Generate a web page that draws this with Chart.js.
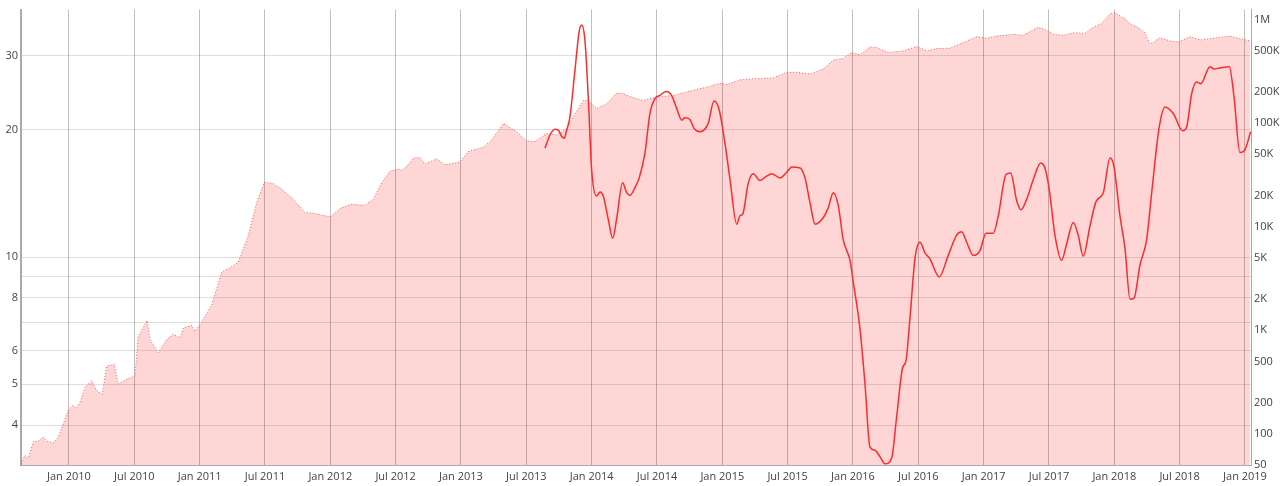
<!DOCTYPE html>
<html>
<head>
<meta charset="utf-8">
<script src="https://cdn.jsdelivr.net/npm/chart.js@4.4.1/dist/chart.umd.min.js"></script>
<style>
  html, body { margin: 0; padding: 0; background: #fff; }
  #wrap { width: 1280px; height: 486px; position: relative; }
</style>
</head>
<body>
<div id="wrap"><canvas id="chart"></canvas></div>
<script>
// Area series (right axis), x in decimal years
const areaYears = [
  2009.633, 2009.663, 2009.689, 2009.727, 2009.765, 2009.803, 2009.829, 2009.880, 2009.918, 2009.956,
  2009.995, 2010.025, 2010.059, 2010.084, 2010.122, 2010.174, 2010.212, 2010.255, 2010.289, 2010.347,
  2010.377, 2010.442, 2010.505, 2010.530, 2010.599, 2010.620, 2010.683, 2010.748, 2010.798, 2010.849,
  2010.875, 2010.939, 2010.964, 2011.003, 2011.092, 2011.169, 2011.232, 2011.296, 2011.372, 2011.436,
  2011.495, 2011.563, 2011.640, 2011.704, 2011.806, 2011.883, 2011.997, 2012.087, 2012.163, 2012.265,
  2012.329, 2012.393, 2012.457, 2012.520, 2012.546, 2012.584, 2012.635, 2012.686, 2012.724, 2012.814,
  2012.877, 2012.992, 2013.056, 2013.170, 2013.235, 2013.324, 2013.426, 2013.503, 2013.566, 2013.656,
  2013.732, 2013.809, 2013.859, 2013.936, 2013.974, 2014.038, 2014.115, 2014.191, 2014.242, 2014.318,
  2014.395, 2014.498, 2014.625, 2014.752, 2014.880, 2014.982, 2015.033, 2015.135, 2015.212, 2015.390,
  2015.493, 2015.569, 2015.671, 2015.773, 2015.849, 2015.926, 2015.990, 2016.053, 2016.130, 2016.181,
  2016.270, 2016.385, 2016.487, 2016.564, 2016.640, 2016.742, 2016.844, 2016.946, 2017.023, 2017.099,
  2017.226, 2017.303, 2017.418, 2017.469, 2017.532, 2017.609, 2017.685, 2017.775, 2017.839, 2017.903,
  2017.966, 2018.005, 2018.068, 2018.133, 2018.183, 2018.234, 2018.273, 2018.349, 2018.426, 2018.489,
  2018.579, 2018.655, 2018.783, 2018.885, 2018.961, 2019.038
];
const areaValues = [
  52, 62, 58, 84, 85, 93, 85, 82, 93, 125,
  168, 187, 178, 201, 280, 325, 261, 242, 452, 469,
  302, 337, 362, 875, 1244, 813, 606, 813, 920, 843,
  1050, 1114, 977, 1131, 1757, 3657, 3995, 4558, 8206, 17087,
  26940, 26120, 22390, 19070, 13700, 13410, 12460, 15300, 16460, 16090,
  18370, 26520, 34320, 36100, 35090, 38310, 45980, 46700, 40300, 45280,
  39680, 42100, 53300, 58600, 68800, 99400, 82800, 67300, 66400, 79700,
  76800, 89000, 115200, 166000, 166000, 138200, 154400, 195300, 192300, 176100,
  166000, 178900, 185200, 204100, 222900, 243400, 236000, 261700, 267600, 273500,
  310000, 310000, 298700, 333500, 406600, 422100, 481600, 456900, 544800, 537700,
  481600, 498900, 549600, 498900, 526000, 529500, 600300, 685000, 660000, 694200,
  720600, 704800, 846200, 804400, 720600, 704800, 748100, 736700, 846200, 912000,
  1136500, 1161900, 1040900, 898000, 835200, 748100, 578400, 670200, 621800, 608300,
  685000, 635600, 670200, 694200, 655500, 621800
];

// Line series (left axis)
const lineYears = [
  2013.643, 2013.681, 2013.719, 2013.745, 2013.771, 2013.791, 2013.809, 2013.834, 2013.872, 2013.905,
  2013.924, 2013.949, 2013.974, 2014.000, 2014.038, 2014.064, 2014.089, 2014.127, 2014.161, 2014.191,
  2014.237, 2014.268, 2014.293, 2014.331, 2014.364, 2014.408, 2014.446, 2014.485, 2014.523, 2014.569,
  2014.612, 2014.651, 2014.689, 2014.714, 2014.752, 2014.783, 2014.829, 2014.892, 2014.936, 2014.977,
  2015.020, 2015.059, 2015.110, 2015.135, 2015.156, 2015.199, 2015.237, 2015.288, 2015.339, 2015.378,
  2015.441, 2015.493, 2015.531, 2015.595, 2015.633, 2015.671, 2015.710, 2015.773, 2015.811, 2015.849,
  2015.888, 2015.926, 2015.952, 2015.977, 2016.002, 2016.053, 2016.092, 2016.130, 2016.168, 2016.206,
  2016.245, 2016.296, 2016.334, 2016.380, 2016.405, 2016.436, 2016.474, 2016.513, 2016.551, 2016.589,
  2016.660, 2016.729, 2016.793, 2016.832, 2016.870, 2016.921, 2016.972, 2017.018, 2017.074, 2017.112,
  2017.171, 2017.207, 2017.253, 2017.286, 2017.329, 2017.380, 2017.436, 2017.469, 2017.502, 2017.546,
  2017.597, 2017.635, 2017.686, 2017.724, 2017.762, 2017.814, 2017.860, 2017.916, 2017.967, 2017.997,
  2018.043, 2018.082, 2018.120, 2018.150, 2018.196, 2018.248, 2018.286, 2018.344, 2018.388, 2018.451,
  2018.523, 2018.554, 2018.592, 2018.630, 2018.661, 2018.732, 2018.763, 2018.808, 2018.880, 2018.916,
  2018.961, 2018.999, 2019.043
];
const lineValues = [
  18.09, 19.44, 20.05, 19.97, 19.28, 19.10, 19.97, 21.47, 27.61, 34.26,
  35.39, 32.46, 23.91, 16.10, 13.94, 14.25, 13.94, 12.29, 11.08, 12.29,
  14.98, 14.20, 13.99, 14.58, 15.39, 17.61, 21.85, 23.70, 24.13, 24.65,
  24.13, 22.45, 21.08, 21.35, 21.16, 20.16, 19.80, 20.71, 23.41, 22.25,
  18.59, 15.25, 11.96, 12.52, 12.63, 14.98, 15.75, 15.17, 15.54, 15.75,
  15.39, 15.87, 16.33, 16.24, 15.39, 13.45, 11.96, 12.40, 13.09, 14.20,
  13.21, 10.96, 10.36, 9.83, 8.73, 6.79, 5.00, 3.55, 3.49, 3.37,
  3.24, 3.34, 4.18, 5.47, 5.67, 7.16, 9.90, 10.84, 10.23, 9.90,
  8.97, 10.09, 11.27, 11.48, 10.84, 10.09, 10.36, 11.39, 11.39, 12.52,
  15.67, 15.81, 13.57, 12.93, 13.69, 15.25, 16.69, 16.24, 14.45, 11.24,
  9.82, 10.74, 12.07, 11.24, 10.05, 11.86, 13.52, 14.20, 17.15, 16.39,
  12.52, 10.45, 7.94, 7.98, 9.56, 11.03, 14.20, 20.34, 22.66, 21.85,
  19.91, 20.34, 24.35, 25.94, 25.70, 28.21, 27.86, 28.02, 28.21, 23.91,
  17.68, 17.93, 19.80
];

// Axis ticks
const xTickYears = [2010, 2010.5, 2011, 2011.5, 2012, 2012.5, 2013, 2013.5, 2014, 2014.5,
  2015, 2015.5, 2016, 2016.5, 2017, 2017.5, 2018, 2018.5, 2019];
const leftTicks = [4, 5, 6, 7, 8, 9, 10, 20, 30];
const leftTickLabels = ['4', '5', '6', '', '8', '', '10', '20', '30'];
const rightTicks = [50, 100, 200, 500, 1e3, 2e3, 5e3, 1e4, 2e4, 5e4, 1e5, 2e5, 5e5, 1e6];
const rightTickLabels = ['50', '100', '200', '500', '1K', '2K', '5K', '10K', '20K', '50K', '100K', '200K', '500K', '1M'];

function toPoints(xs, ys) {
    return xs.map((x, i) => ({ x: x, y: ys[i] }));
}

function xLabel(v) {
    const yr = Math.floor(v + 1e-6);
    return (v - yr < 0.25 ? 'Jan ' : 'Jul ') + yr;
}

Chart.defaults.font.family = '"Open Sans", sans-serif';
Chart.defaults.font.size = 11;
Chart.defaults.color = '#444';

const ctx = document.getElementById('chart');

window.chart = new Chart(ctx, {
    type: 'line',
    data: {
        datasets: [{
            label: 'line',
            data: toPoints(lineYears, lineValues),
            yAxisID: 'y',
            borderColor: '#ff2a2a',
            borderWidth: 1.5,
            pointRadius: 0,
            cubicInterpolationMode: 'monotone',
            fill: false
        }, {
            label: 'area',
            data: toPoints(areaYears, areaValues),
            yAxisID: 'y2',
            borderColor: 'rgba(255, 40, 40, 0.75)',
            borderWidth: 1,
            borderDash: [1, 2],
            backgroundColor: 'rgba(255, 0, 0, 0.16)',
            pointRadius: 0,
            tension: 0,
            fill: 'start'
        }]
    },
    options: {
        responsive: true,
        maintainAspectRatio: false,
        animation: false,
        layout: { padding: { top: 5, left: 0, right: 0, bottom: 0 } },
        plugins: {
            legend: { display: false },
            tooltip: { enabled: false }
        },
        scales: {
            x: {
                type: 'linear',
                min: 2009.633,
                max: 2019.046,
                afterBuildTicks: s => { s.ticks = xTickYears.map(v => ({ value: v })); },
                afterFit: s => { s.height = 21; },
                grid: { color: 'rgba(0, 0, 0, 0.25)', drawTicks: false },
                border: { color: '#aaa', width: 1 },
                ticks: { callback: v => xLabel(v), padding: 5, autoSkip: false, maxRotation: 0 }
            },
            y: {
                type: 'logarithmic',
                position: 'left',
                min: 3.22,
                max: 38.5,
                afterBuildTicks: s => { s.ticks = leftTicks.map(v => ({ value: v })); },
                afterFit: s => { s.width = 21; },
                grid: { color: 'rgba(0, 0, 0, 0.13)', drawTicks: false },
                border: { color: '#aaa', width: 2 },
                ticks: {
                    padding: 3,
                    callback: v => leftTickLabels[leftTicks.indexOf(v)]
                }
            },
            y2: {
                type: 'logarithmic',
                position: 'right',
                min: 50,
                max: 1.25e6,
                afterBuildTicks: s => { s.ticks = rightTicks.map(v => ({ value: v })); },
                afterFit: s => { s.width = 29; },
                grid: { drawOnChartArea: false, drawTicks: false },
                border: { color: '#aaa', width: 1 },
                ticks: {
                    padding: 3,
                    callback: v => rightTickLabels[rightTicks.indexOf(v)]
                }
            }
        }
    }
});
</script>
</body>
</html>
